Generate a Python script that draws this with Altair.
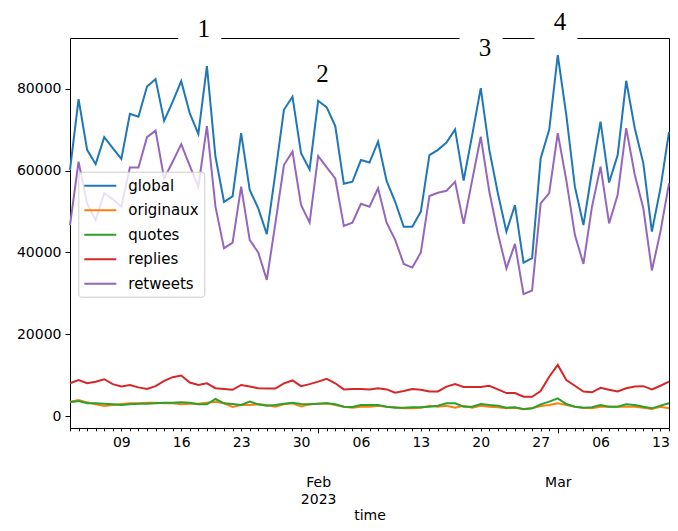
import altair as alt
import pandas as pd

# ---------------- data ----------------
series_names = ["global", "originaux", "quotes", "replies", "retweets"]
series_colors = ["#1f77b4", "#ff7f0e", "#2ca02c", "#d62728", "#9467bd"]
start_date = "2023-01-03"

global_vals = [60200, 77500, 65100, 61600, 68200, 65500, 62900, 73900, 73200, 80600,
               82400, 72200, 76900, 81900, 74000, 69000, 85600, 63400, 52400, 53700,
               69200, 55300, 50800, 44500, 59400, 74900, 78100, 64300, 60300, 77100,
               75500, 70900, 56800, 57300, 62600, 62000, 67100, 57500, 52400, 46300,
               46300, 50000, 63800, 65100, 66900, 70100, 57600, 68700, 80200, 65100,
               54500, 45100, 51600, 37500, 38600, 63000, 70000, 88300, 73600, 56100,
               46700, 59800, 72000, 57100, 63800, 82000, 70400, 61800, 45100, 55700,
               69500]
originaux_vals = [3510, 3910, 3340, 2850, 2450, 2690, 2930, 3100, 3100, 3260,
                  3260, 3100, 3100, 2850, 3020, 3020, 3260, 3510, 3100, 2200,
                  2690, 2690, 2850, 2690, 2280, 2850, 3100, 2360, 2850, 3020,
                  3100, 2690, 2280, 2040, 2280, 2280, 2530, 2280, 2120, 1875,
                  1875, 2040, 2530, 2280, 2530, 2040, 2530, 2040, 2530, 2280,
                  2120, 1875, 2040, 1710, 1875, 2450, 2690, 3100, 2690, 2280,
                  2040, 1875, 2280, 2280, 2280, 2280, 2280, 2040, 1710, 2280,
                  1875]
quotes_vals = [3340, 3670, 3100, 3100, 3020, 2850, 2690, 2850, 3020, 3020,
               3100, 3260, 3260, 3340, 3260, 2850, 2850, 4160, 3100, 2930,
               2690, 3510, 2850, 2530, 2690, 3020, 3260, 2930, 2850, 3020,
               3100, 2850, 2280, 2200, 2690, 2690, 2690, 2280, 2040, 2040,
               2120, 2120, 2280, 2530, 3100, 3100, 2280, 2280, 2930, 2690,
               2530, 2040, 2120, 1630, 1875, 2850, 3510, 4320, 2930, 2280,
               2040, 2120, 2690, 2280, 2280, 2850, 2690, 2280, 1875, 2530,
               3100]
replies_vals = [8000, 8800, 8000, 8400, 9000, 7800, 7200, 7600, 7000, 6600,
                7300, 8600, 9500, 9900, 8200, 7600, 8000, 6800, 6600, 6400,
                7600, 7200, 6800, 6700, 6700, 8000, 8700, 7300, 7800, 8400,
                9100, 8000, 6500, 6600, 6600, 6500, 6800, 6500, 5700, 6100,
                6600, 6400, 6000, 6000, 7200, 7800, 7100, 7100, 7100, 7400,
                6500, 5600, 5600, 4700, 4700, 6100, 9600, 12500, 8800, 7400,
                6000, 5800, 6900, 6400, 6000, 6800, 7200, 7300, 6500, 7400,
                8400]
retweets_vals = [46700, 62200, 52000, 47900, 54500, 53000, 51200, 60800, 60800, 68200,
                 69800, 58100, 62200, 66500, 61200, 56100, 70900, 51200, 41000, 42400,
                 56100, 43100, 40000, 33300, 47100, 61400, 64700, 51600, 47300, 63600,
                 60800, 58100, 46500, 47300, 51900, 51200, 55700, 47300, 43100, 37200,
                 36300, 40000, 53800, 54600, 55100, 57300, 47000, 57700, 68300, 54900,
                 44700, 36100, 42100, 29800, 30700, 52000, 54500, 69200, 57700, 44300,
                 37200, 51200, 61000, 47100, 54100, 70400, 59000, 50800, 35600, 45100,
                 56900]

ann_labels = ["1", "2", "3", "4"]
ann_times = ["2023-01-18T15:00:00Z", "2023-02-01T12:00:00Z",
             "2023-02-20T12:00:00Z", "2023-03-01T06:00:00Z"]
ann_values = [94780, 83600, 90010, 96400]

y_ticks = [0, 20000, 40000, 60000, 80000]
y_domain = [-2935, 92460]
x_start, x_end = "2023-01-03", "2023-03-14"
week_start, week_end = "2023-01-09", "2023-03-13"
month_starts = ["2023-02-01", "2023-03-01"]

# ---------------- tables ----------------
def ms(s):
    t = pd.Timestamp(s)
    if t.tzinfo is None:
        t = t.tz_localize("UTC")
    return int(t.timestamp() * 1000)

all_series = [global_vals, originaux_vals, quotes_vals, replies_vals, retweets_vals]
dates = pd.date_range(start_date, periods=len(global_vals), freq="D")
date_strs = [d.strftime("%Y-%m-%dT00:00:00Z") for d in dates]
rows = []
for name, vals in zip(series_names, all_series):
    for t, v in zip(date_strs, vals):
        rows.append({"time": t, "series": name, "value": v})
df = pd.DataFrame(rows)
ann = pd.DataFrame({"time": ann_times, "value": ann_values, "label": ann_labels})

weekly_ticks = [ms(d) for d in pd.date_range(week_start, week_end, freq="7D")]
daily_ticks = [ms(d) for d in dates]
month_ticks = [ms(d) for d in month_starts]

xscale = alt.Scale(type="utc", domain=[ms(x_start), ms(x_end)], nice=False)
yscale = alt.Scale(domain=y_domain, nice=False, zero=False)

common = dict(domainColor="black", tickColor="black", labelColor="black", grid=False,
              labelFont="DejaVu Sans", labelFontSize=14, tickWidth=1, domainWidth=1)

# ---------------- layers ----------------
lines = alt.Chart(df).mark_line(strokeWidth=2).encode(
    x=alt.X("time:T", scale=xscale,
            axis=alt.Axis(orient="bottom", values=weekly_ticks,
                          labelExpr="utcFormat(datum.value, '%d')",
                          tickSize=2.8, labelPadding=5, labelOverlap=False, labelFlush=False,
                          domain=True, title="time", titleFont="DejaVu Sans", titleFontSize=14,
                          titleFontWeight="normal", titleColor="black", titleY=91,
                          titleBaseline="alphabetic", **common)),
    y=alt.Y("value:Q", scale=yscale,
            axis=alt.Axis(orient="left", values=y_ticks, format="d", tickSize=5,
                          labelPadding=4, labelOverlap=False, domain=True, title=None, **common)),
    color=alt.Color("series:N", scale=alt.Scale(domain=series_names, range=series_colors),
                    legend=alt.Legend(title=None, orient="none", legendX=8.3, legendY=133.7,
                                      symbolType="M-1,0H3", symbolSize=256, symbolStrokeWidth=2,
                                      labelFont="DejaVu Sans", labelFontSize=15, labelColor="black",
                                      labelOffset=27, rowPadding=7.5, padding=5,
                                      fillColor="rgba(255,255,255,0.8)", strokeColor="#cccccc",
                                      cornerRadius=3)),
)

boxes = alt.Chart(ann).mark_rect(color="white", width=43, height=46, xOffset=-4).encode(
    x=alt.X("time:T", scale=xscale,
            axis=alt.Axis(orient="bottom", values=daily_ticks, labels=False, tickSize=2.8,
                          domain=False, title=None, **common)),
    y=alt.Y("value:Q", scale=yscale,
            axis=alt.Axis(orient="right", ticks=False, labels=False, domain=True,
                          title=None, **common)),
)

texts = alt.Chart(ann).mark_text(font="Liberation Serif", fontSize=25, color="black",
                                 align="center", baseline="middle").encode(
    x=alt.X("time:T", scale=xscale,
            axis=alt.Axis(orient="bottom", values=month_ticks,
                          labelExpr="utcFormat(datum.value, '%m') == '02' ? ['Feb', '2023'] : 'Mar'",
                          tickSize=4.9, labelPadding=43, labelLineHeight=16.7,
                          labelOverlap=False, labelFlush=False, domain=False, title=None, **common)),
    y=alt.Y("value:Q", scale=yscale, axis=None),
    text="label:N",
)

frame_top = alt.Chart(ann).mark_point(opacity=0).encode(
    x=alt.X("time:T", scale=xscale,
            axis=alt.Axis(orient="top", ticks=False, labels=False, domain=True,
                          title=None, **common)),
    y=alt.Y("value:Q", scale=yscale, axis=None),
)

chart = alt.layer(lines, boxes, texts, frame_top).resolve_axis(
    x="independent", y="independent"
).properties(
    width=599, height=390,
    padding={"left": 62, "top": 30, "right": 1, "bottom": 95},
    autosize=alt.AutoSizeParams(type="none"),
).configure_view(strokeWidth=0).configure(background="white")

chart.save("out.html", embed_options={"renderer": "svg", "actions": False})
